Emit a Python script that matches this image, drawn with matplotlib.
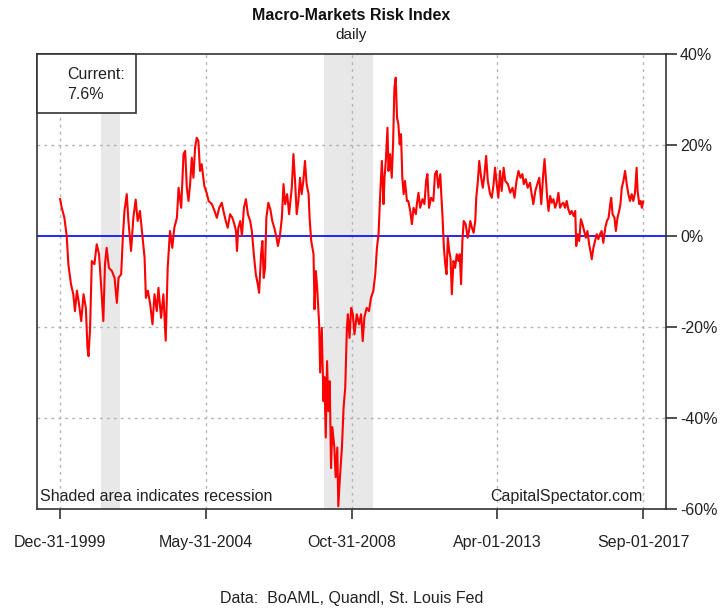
import matplotlib
matplotlib.use("Agg")
import matplotlib.pyplot as plt
from matplotlib.patches import Rectangle

plt.rcParams["font.family"] = ["Liberation Sans", "DejaVu Sans"]

# values (decimal year, index in %)
years = [
    2000.00, 2000.05, 2000.13, 2000.20, 2000.25, 2000.33, 2000.40, 2000.45, 2000.51, 2000.56,
    2000.64, 2000.71, 2000.78, 2000.83, 2000.86, 2000.91, 2000.96, 2001.04, 2001.11, 2001.18,
    2001.26, 2001.31, 2001.36, 2001.41, 2001.48, 2001.57, 2001.65, 2001.72, 2001.77, 2001.85,
    2001.90, 2001.95, 2002.02, 2002.07, 2002.15, 2002.22, 2002.29, 2002.35, 2002.42, 2002.49,
    2002.56, 2002.60, 2002.66, 2002.73, 2002.80, 2002.86, 2002.93, 2002.98, 2003.06, 2003.13,
    2003.20, 2003.26, 2003.33, 2003.40, 2003.46, 2003.54, 2003.59, 2003.67, 2003.74,
    2003.79, 2003.84, 2003.89, 2003.94, 2003.99, 2004.04, 2004.09, 2004.14, 2004.19, 2004.24,
    2004.29, 2004.37, 2004.44, 2004.50, 2004.60, 2004.68, 2004.75, 2004.82, 2004.90, 2004.95,
    2005.02, 2005.08, 2005.15, 2005.22, 2005.28, 2005.33, 2005.36, 2005.40, 2005.46, 2005.51,
    2005.57, 2005.63, 2005.69, 2005.76, 2005.81, 2005.87, 2005.93, 2005.99, 2006.03, 2006.09,
    2006.13, 2006.17, 2006.21, 2006.25, 2006.31, 2006.37, 2006.43, 2006.49, 2006.56, 2006.60,
    2006.66, 2006.72, 2006.77, 2006.82, 2006.88, 2006.94, 2007.02, 2007.07, 2007.12,
    2007.17, 2007.22, 2007.27, 2007.32, 2007.37, 2007.42, 2007.47, 2007.53, 2007.56, 2007.61,
    2007.68, 2007.71, 2007.75, 2007.79, 2007.85, 2007.88, 2007.93, 2007.98, 2008.01, 2008.05,
    2008.09, 2008.13, 2008.17, 2008.21, 2008.25, 2008.31, 2008.35, 2008.40, 2008.43, 2008.48,
    2008.54, 2008.59, 2008.64, 2008.69, 2008.72, 2008.77, 2008.82, 2008.87, 2008.92, 2008.99,
    2009.06, 2009.12, 2009.17, 2009.22, 2009.29, 2009.36, 2009.42, 2009.49, 2009.55, 2009.60,
    2009.65, 2009.70, 2009.75, 2009.80, 2009.83, 2009.87, 2009.92, 2009.95, 2010.00, 2010.05,
    2010.09, 2010.13, 2010.17, 2010.21, 2010.25, 2010.29, 2010.33, 2010.37, 2010.41, 2010.45,
    2010.51, 2010.55, 2010.61, 2010.66, 2010.71, 2010.78,
    2010.81, 2010.86, 2010.91, 2010.98, 2011.04, 2011.09, 2011.13, 2011.18, 2011.24, 2011.31,
    2011.36, 2011.41, 2011.46, 2011.52, 2011.55, 2011.59, 2011.63, 2011.67, 2011.71, 2011.75,
    2011.79, 2011.83, 2011.87, 2011.92, 2011.97, 2012.02, 2012.07, 2012.11, 2012.15, 2012.19,
    2012.23, 2012.29, 2012.35, 2012.39, 2012.43, 2012.48, 2012.53, 2012.58, 2012.61, 2012.66,
    2012.70, 2012.76, 2012.81, 2012.86, 2012.91, 2012.96, 2013.03, 2013.08, 2013.13, 2013.18,
    2013.23, 2013.28, 2013.33, 2013.38, 2013.44, 2013.49, 2013.57, 2013.64, 2013.71, 2013.77,
    2013.83, 2013.89, 2013.95, 2014.01, 2014.05, 2014.11, 2014.17, 2014.24, 2014.29, 2014.34,
    2014.40, 2014.46, 2014.52, 2014.58, 2014.64, 2014.68,
    2014.72, 2014.76, 2014.80, 2014.85, 2014.90, 2014.95, 2015.00, 2015.05, 2015.10, 2015.15,
    2015.20, 2015.25, 2015.30, 2015.35, 2015.40, 2015.45, 2015.50, 2015.56, 2015.61, 2015.64,
    2015.68, 2015.73, 2015.78, 2015.83, 2015.88, 2015.93, 2015.98, 2016.03, 2016.07, 2016.11,
    2016.16, 2016.21, 2016.26, 2016.31, 2016.36, 2016.41, 2016.46, 2016.52, 2016.57, 2016.62,
    2016.67, 2016.70, 2016.74, 2016.80, 2016.84, 2016.89, 2016.94, 2016.98, 2017.02, 2017.07,
    2017.12, 2017.17, 2017.22, 2017.27, 2017.32, 2017.37, 2017.42, 2017.47, 2017.50, 2017.55,
    2017.59, 2017.63, 2017.67,
]
risk = [
    8.1, 6.2, 4.0, 0.0, -6.2, -10.6, -12.8, -16.5, -12.0, -14.3,
    -18.7, -12.8, -15.8, -24.6, -26.4, -20.0, -5.5, -6.2, -1.8, -4.0,
    -12.8, -18.7, -6.2, -2.6, -7.0, -7.7, -9.2, -14.7, -9.2, -8.4,
    -0.4, 5.5, 9.2, 3.3, -3.3, 4.0, 8.0, 3.3, 5.5, 0.4,
    -4.8, -13.6, -12.0, -15.0, -19.4, -12.8, -16.5, -11.4, -18.0, -12.8,
    -23.0, -7.0, 1.1, -2.6, 1.8, 4.0, 10.6, 6.2, 18.0,
    18.7, 10.6, 7.7, 11.4, 17.2, 12.8, 19.4, 21.6, 20.9, 14.3,
    15.8, 11.0, 9.5, 7.7, 7.0, 5.5, 4.0, 6.2, 7.3, 5.5,
    3.3, 1.8, 4.8, 4.0, 2.6, 1.1, -3.3, 1.8, 3.3, 0.0,
    6.2, 8.1, 4.8, 3.3, 1.1, -4.0, -8.4, -10.6, -12.5, -4.0,
    -1.1, -9.2, -7.0, 4.0, 7.3, 5.9, 3.3, 1.8, -0.4, -2.2,
    0.0, 4.0, 11.4, 7.0, 9.2, 4.8, 10.6, 18.0, 12.1,
    4.8, 7.7, 12.8, 9.2, 12.1, 16.5, 11.4, 9.2, 4.0, -1.1,
    -4.0, -16.1, -7.7, -11.4, -19.4, -30.0, -20.2, -36.3, -31.0, -44.3,
    -27.5, -38.5, -31.9, -51.0, -42.0, -46.5, -53.0, -46.5, -59.4, -53.0,
    -46.5, -37.7, -33.4, -20.2, -17.2, -22.4, -15.8, -17.2, -21.6, -17.2,
    -19.4, -17.2, -23.1, -17.9, -15.8, -16.5, -13.6, -12.1, -8.4, -2.6,
    0.4, 9.2, 16.5, 7.0, 12.8, 16.5, 23.8, 14.3, 18.0, 12.8,
    20.2, 32.6, 34.8, 26.0, 24.6, 20.2, 22.4, 12.8, 9.2, 12.1,
    7.7, 7.7, 5.5, 2.6, 6.2, 4.8,
    7.0, 9.5, 6.2, 8.1, 7.0, 12.1, 13.6, 6.2, 8.4, 7.7,
    13.6, 14.3, 10.6, 13.6, 9.2, 4.0, -2.6, -6.2, -8.4, -0.4,
    -3.3, -4.8, -12.8, -5.5, -7.0, -4.0, -5.5, -4.0, -10.6, -1.1,
    3.3, 2.6, -0.4, 1.1, 3.3, 1.8, 0.7, 3.3, 8.4, 12.1,
    16.5, 12.8, 10.6, 13.6, 17.6, 12.1, 9.2, 8.4, 11.0, 15.0,
    11.4, 8.4, 14.3, 9.9, 15.0, 12.1, 11.4, 9.5, 10.6, 8.4,
    12.1, 14.3, 12.8, 13.6, 11.4, 12.5, 10.6, 11.7, 9.2, 7.0,
    9.9, 11.4, 12.8, 7.0, 13.6, 16.9,
    12.8, 8.4, 5.5, 8.8, 7.3, 8.1, 6.2, 7.3, 9.5, 6.2,
    7.0, 7.3, 6.2, 7.7, 5.9, 4.8, 5.5, 4.4, 5.5, -2.2,
    0.4, -1.1, 3.7, 2.6, 1.1, -0.4, 1.1, -1.8, -3.3, -5.1,
    -2.6, -1.1, 0.4, -0.7, 0.4, 1.1, -1.5, 1.8, 3.3, 4.0,
    7.0, 8.4, 4.8, 4.0, 1.1, 4.0, 5.5, 7.0, 10.6, 12.1,
    14.3, 11.4, 9.2, 7.7, 9.2, 7.7, 9.5, 15.0, 9.9, 7.0,
    7.7, 6.2, 7.6,
]

rec_start = [2001.23, 2008.01]
rec_end = [2001.82, 2009.47]

tick_pos = [2000.0, 2004.41, 2008.83, 2013.25, 2017.67]
tick_lab = ["Dec-31-1999", "May-31-2004", "Oct-31-2008", "Apr-01-2013", "Sep-01-2017"]
y_ticks = [-60, -40, -20, 0, 20, 40]
current = risk[-1]

fig = plt.figure(figsize=(7.25, 6.1), dpi=100)
ax = fig.add_axes([37 / 725, 1 - 509 / 610, 629 / 725, 455 / 610])

for a, b in zip(rec_start, rec_end):
    ax.axvspan(a, b, color="#e8e8e8", lw=0, zorder=0)

for x in tick_pos:
    ax.axvline(x, color="#b4b4b4", lw=1, ls=(0, (2, 3)), zorder=1)
for y in [-40, -20, 20]:
    ax.axhline(y, color="#b4b4b4", lw=1, ls=(0, (2, 3)), zorder=1)

ax.axhline(0, color="#0000ff", lw=1.2, zorder=2)
ax.plot(years, risk, color="#ff0000", lw=1.5, zorder=3)

ax.set_xlim(1999.30, 2018.36)
ax.set_ylim(-60, 40)
ax.set_xticks(tick_pos)
ax.set_xticklabels(tick_lab, fontsize=11.5, color="#222222")
ax.yaxis.tick_right()
ax.set_yticks(y_ticks)
ax.set_yticklabels([f"{v}%" for v in y_ticks], fontsize=11.5, color="#222222")
ax.tick_params(axis="x", length=7.5, width=1.2, pad=11, color="#333333")
ax.tick_params(axis="y", length=8, width=1.2, pad=2, color="#333333")
for s in ax.spines.values():
    s.set_color("#333333")
    s.set_linewidth(1.2)

# "Current" box in the top left corner
ax.add_patch(Rectangle((0, 0.870), 0.157, 0.130, transform=ax.transAxes,
                       facecolor="white", edgecolor="#333333", lw=1.2, zorder=5,
                       clip_on=False))
ax.text(0.048, 0.955, "Current:", transform=ax.transAxes, fontsize=11.5,
        color="#222222", va="center", zorder=6)
ax.text(0.048, 0.912, f"{current}%", transform=ax.transAxes, fontsize=11.5,
        color="#222222", va="center", zorder=6)

ax.text(0.005, 0.028, "Shaded area indicates recession", transform=ax.transAxes,
        fontsize=11.5, color="#222222", va="center", zorder=6)
ax.text(0.963, 0.028, "CapitalSpectator.com", transform=ax.transAxes,
        fontsize=11.5, color="#222222", va="center", ha="right", zorder=6)

cx = (37 + 666) / 2 / 725
fig.text(cx, 1 - 16 / 610, "Macro-Markets Risk Index", ha="center", va="center",
         fontsize=11.5, fontweight="bold", color="#111111")
fig.text(cx, 1 - 35 / 610, "daily", ha="center", va="center", fontsize=11, color="#222222")
fig.text(cx, 1 - 598 / 610, "Data:  BoAML, Quandl, St. Louis Fed", ha="center",
         va="center", fontsize=11.5, color="#222222")

fig.savefig("out.png", dpi=100)
